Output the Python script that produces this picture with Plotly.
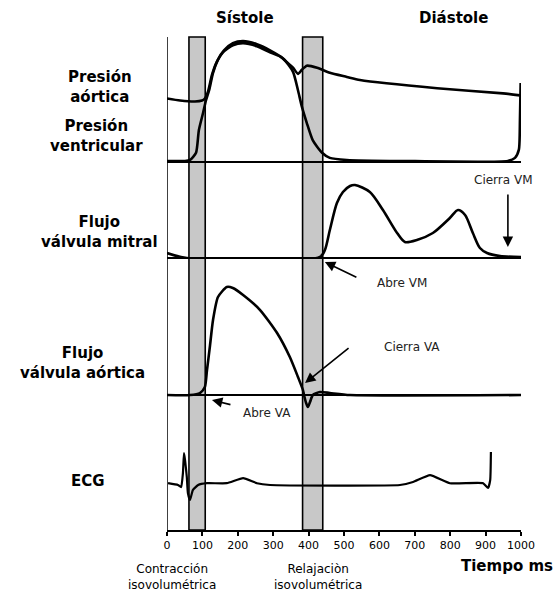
import plotly.graph_objects as go

# ---- Cardiac cycle data (time in ms) ----
# Pressures (mmHg)
t_pv = [0, 51, 65, 82, 90, 102, 110, 119, 130, 144, 161, 186, 215, 254, 291, 328,
        356, 370, 381, 395, 412, 438, 460, 508, 658, 963, 983, 994, 997, 999]
p_ventricular = [1, 1, 2, 9, 31, 48, 60, 70, 87, 100, 109, 116, 118, 115, 109, 101,
                 88, 70, 54, 38, 21, 9, 4, 2, 1, 1, 4, 12, 41, 77]

t_pa = [0, 37, 79, 99, 107, 116, 127, 141, 158, 186, 215, 254, 291, 319, 356, 370,
        381, 395, 424, 460, 508, 545, 763, 949, 997]
p_aortic = [62, 60, 59, 60, 62, 69, 85, 98, 107, 114, 116, 113, 107, 103, 92, 86,
            90, 94, 92, 87, 83, 80, 72, 67, 65]

# Mitral valve flow (cm/s)
t_mitral = [0, 56, 432, 446, 460, 480, 497, 517, 531, 573, 610, 650, 672, 706, 751,
            799, 822, 842, 864, 884, 904, 941, 1000]
q_mitral = [5, 0, 1, 8, 28, 55, 66, 72, 73, 66, 48, 25, 16, 18, 25,
            40, 48, 43, 25, 10, 5, 2, 1]

# Aortic valve flow (cm/s)
t_aortic = [0, 65, 93, 107, 113, 121, 130, 144, 169, 186, 215, 263, 311, 347, 370,
            384, 387, 393, 398, 404, 412, 432, 460, 517, 1000]
q_aortic = [0, 0, 2, 8, 25, 48, 75, 98, 108, 107, 100, 85, 62, 38, 18,
            5, 0, -8, -12, -7, 0, 3, 2, 0, 0]

# ECG (mV)
t_ecg = [3, 31, 40, 45, 48, 51, 56, 59, 65, 73, 88, 113, 169, 215, 254, 291,
         658, 695, 743, 799, 893, 907, 913, 915]
v_ecg = [0.03, -0.03, -0.1, 0.37, 1.03, 0.8, 0.23, -0.3, -0.53, -0.2, -0.03, 0.03,
         0.03, 0.2, 0.03, -0.03, -0.03, 0.07, 0.3, 0.03, 0.03, -0.13, 0.13, 1.07]

# Isovolumetric phases (ms)
phase_contraction = (62, 108)
phase_relaxation = (383, 440)

time_ticks = list(range(0, 1001, 100))

LINE = dict(color="black", width=2.6)
FONT = "DejaVu Sans"

fig = go.Figure()
fig.add_trace(go.Scatter(x=t_pa, y=p_aortic, mode="lines", yaxis="y",
                         line=dict(**LINE, shape="spline", smoothing=0.6)))
fig.add_trace(go.Scatter(x=t_pv, y=p_ventricular, mode="lines", yaxis="y",
                         line=dict(**LINE, shape="spline", smoothing=0.6)))
fig.add_trace(go.Scatter(x=t_mitral, y=q_mitral, mode="lines", yaxis="y2",
                         line=dict(**LINE, shape="spline", smoothing=0.8)))
fig.add_trace(go.Scatter(x=t_aortic, y=q_aortic, mode="lines", yaxis="y3",
                         line=dict(**LINE, shape="spline", smoothing=0.6)))
fig.add_trace(go.Scatter(x=t_ecg, y=v_ecg, mode="lines", yaxis="y4",
                         line=dict(color="black", width=2.2, shape="spline", smoothing=0.4)))

# Shaded isovolumetric bands
for a, b in (phase_contraction, phase_relaxation):
    fig.add_shape(type="rect", xref="x", yref="paper", x0=a, x1=b, y0=0, y1=1,
                  fillcolor="#c8c8c8", line=dict(color="black", width=1.6), layer="below")
# Left vertical axis
fig.add_shape(type="line", xref="x", yref="paper", x0=0, x1=0, y0=0, y1=1,
              line=dict(color="black", width=1.5))

hidden = dict(showgrid=False, showticklabels=False, ticks="", showline=False,
              zerolinecolor="black", zerolinewidth=1.6, fixedrange=True)

fig.update_layout(
    width=555, height=595,
    margin=dict(l=167, r=34, t=37, b=65),
    paper_bgcolor="white", plot_bgcolor="rgba(0,0,0,0)",
    showlegend=False,
    xaxis=dict(range=[0, 1000], tickvals=time_ticks, showgrid=False, zeroline=False,
               showline=True, linecolor="black", linewidth=1.5, ticks="outside",
               ticklen=4, tickwidth=1.5, tickcolor="black", anchor="y4",
               tickfont=dict(family=FONT, size=11, color="black")),
    yaxis=dict(domain=[0.7465, 1.0], range=[0, 122], zeroline=True, **hidden),
    yaxis2=dict(domain=[0.5517, 0.7465], range=[0, 96], zeroline=True, **hidden),
    yaxis3=dict(domain=[0.2231, 0.5517], range=[-25, 137], zeroline=True, **hidden),
    yaxis4=dict(domain=[0.0, 0.2738], range=[-1.53, 2.97], zeroline=False, **hidden),
)

def label(text, px_x, px_y, size=15, bold=True, color="black"):
    fig.add_annotation(text=text, xref="paper", yref="paper",
                       x=(px_x - 167) / 354, y=(530 - px_y) / 493,
                       showarrow=False, xanchor="center", yanchor="middle",
                       font=dict(family=FONT, size=size, color=color,
                                 weight="bold" if bold else "normal"))

label("Sístole", 245, 18)
label("Diástole", 453, 18)
label("Presión<br>aórtica", 100, 87)
label("Presión<br>ventricular", 96, 136)
label("Flujo<br>válvula mitral", 99, 232)
label("Flujo<br>válvula aórtica", 82, 363)
label("ECG", 88, 481)
label("Tiempo ms", 507, 566)
label("Contracción<br>isovolumétrica", 172, 577, size=12, bold=False)
label("Relajaciòn<br>isovolumétrica", 318, 577, size=12, bold=False)

label("Cierra VM", 503, 180, size=12, bold=False, color="#222")
label("Abre VM", 402, 283, size=12, bold=False, color="#222")
label("Cierra VA", 412, 347, size=12, bold=False, color="#222")
label("Abre VA", 267, 413, size=12, bold=False, color="#222")

def arrow(x, y, yref, ax, ay):
    fig.add_annotation(text="", x=x, y=y, xref="x", yref=yref, ax=ax, ay=ay,
                       showarrow=True, arrowhead=2, arrowsize=1.3, arrowwidth=1.6,
                       arrowcolor="black")

arrow(963, 11, "y2", 0, -54)                     # mitral valve closes
arrow(446, (530 - 262) / 493, "paper", 33, 16)   # mitral valve opens
arrow(390, 12, "y3", 45, -36)                    # aortic valve closes
arrow(127, -5, "y3", 20, 5)                      # aortic valve opens

fig.write_html("out.html")
